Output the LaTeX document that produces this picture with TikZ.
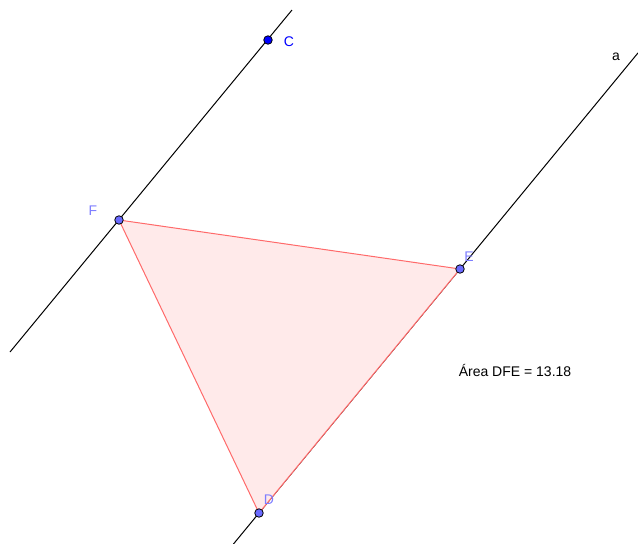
\documentclass[tikz,border=0pt]{standalone}
\usepackage{fontspec}
\setmainfont{Liberation Sans}
\usepackage{tikz}
\usetikzlibrary{calc}
\definecolor{ptfill}{HTML}{6B6BFF}
\definecolor{ptlabel}{HTML}{7D7DFF}
\definecolor{triedge}{HTML}{FF6A6A}
\definecolor{trifill}{HTML}{FFEAEA}

\begin{document}
\begin{tikzpicture}[x=1pt, y=-1pt,
    ln/.style={line width=1pt, black},
    tri/.style={draw=triedge, fill=trifill, line width=1pt, line join=round},
    pt/.style={circle, draw=black, fill=ptfill, line width=0.8pt, inner sep=0pt, minimum size=8.5pt},
    lbl/.style={font=\fontsize{14}{16}\selectfont, text=ptlabel}
]
\useasboundingbox (0,0) rectangle (638,544);
% points
\coordinate (C) at (268,40);
\coordinate (F) at (119,220);
\coordinate (E) at (460,269);
\coordinate (D) at (259,513);
% ends of the two parallel lines
\coordinate (ccA) at (10,352);
\coordinate (ccB) at (292,10);
\coordinate (aA) at ($(D)!-0.127!(E)$);
\coordinate (aB) at ($(D)!1.886!(E)$);

\draw[ln] (ccA) -- (ccB);
\draw[ln] (aA) -- (aB);
\filldraw[tri] (D) -- (E) -- (F) -- cycle;

\node[pt, fill=blue] (Cp) at (C) {};
\node[pt] (Fp) at (F) {};
\node[pt] (Ep) at (E) {};
\node[pt] (Dp) at (D) {};

\node[lbl, text=blue] (Clbl) at (289,42) {C};
\node[lbl] (Flbl) at (93,211) {F};
\node[lbl] (Elbl) at (469,257) {E};
\node[lbl] (Dlbl) at (269,500) {D};
\node[lbl, text=black] (albl) at (616,57) {a};
\node[lbl, text=black] (area) at (515,370) {Área DFE = 13.18};
\end{tikzpicture}
\end{document}
